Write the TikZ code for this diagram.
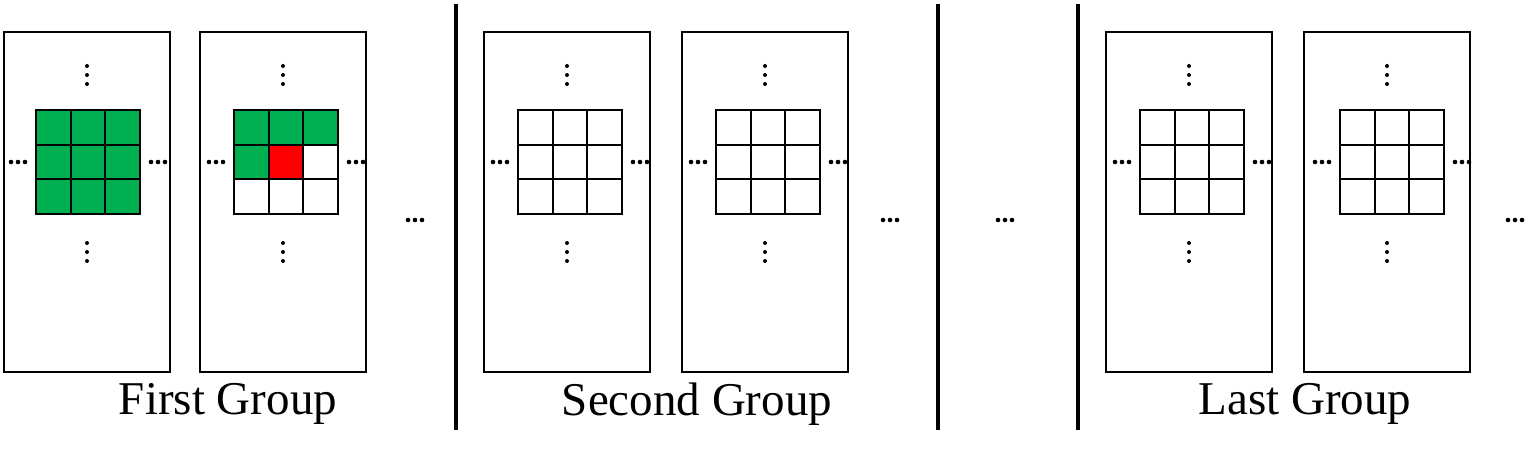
\documentclass[tikz,border=0pt]{standalone}
\usepackage{fontspec}
\setmainfont{Liberation Serif}
\definecolor{gr}{RGB}{0,176,80}
\begin{document}
\begin{tikzpicture}[x=1pt,y=-1pt,
  panel/.style={draw,line width=2pt},
  cell/.style={draw,line width=2pt},
  sep/.style={line width=4pt},
  dot/.style={fill=black,draw=none}]
\useasboundingbox (0,0) rectangle (1528,452);
\foreach \px/\gx in {4/36,200/234,484/518,682/716,1106/1140,1304/1340}{
  \draw[panel] (\px,32) rectangle ++(166,340);
  \pgfmathsetmacro{\cx}{\px+83}
  \foreach \dy in {-9,0,9}{
    \fill[dot] (\cx,75+\dy) circle (2);
    \fill[dot] (\cx,252+\dy) circle (2);
  }
  \foreach \dy in {-7,0,7}{
    \fill[dot] (\gx-18+\dy,162) circle (2.3);
    \fill[dot] (\gx+122+\dy,162) circle (2.3);
  }
}
\foreach \gx/\k in {36/1,234/2,518/0,716/0,1140/0,1340/0}{
  \foreach \i in {0,1,2}{\foreach \j in {0,1,2}{
    \pgfmathtruncatemacro{\n}{\j*3+\i}
    \ifnum\k=1 \def\fc{gr}\else
      \ifnum\k=2
        \ifnum\n<4 \def\fc{gr}\else\ifnum\n=4 \def\fc{red}\else\def\fc{white}\fi\fi
      \else\def\fc{white}\fi\fi
    \draw[cell,fill=\fc] (\gx+\i*34.7,110+\j*34.7) rectangle ++(34.7,34.7);
  }}
}
\foreach \x in {415,890,1005,1515}{
  \foreach \dx in {-7,0,7}{\fill[dot] (\x+\dx,220) circle (2.3);}
}
\foreach \x in {456,938,1078}{\draw[sep] (\x,4) -- (\x,430);}
\node[font=\fontsize{47}{50}\selectfont] (l1) at (228,404) {First Group};
\node[font=\fontsize{47}{50}\selectfont] (l2) at (697,404) {Second Group};
\node[font=\fontsize{47}{50}\selectfont] (l3) at (1305,404) {Last Group};
\end{tikzpicture}
\end{document}
